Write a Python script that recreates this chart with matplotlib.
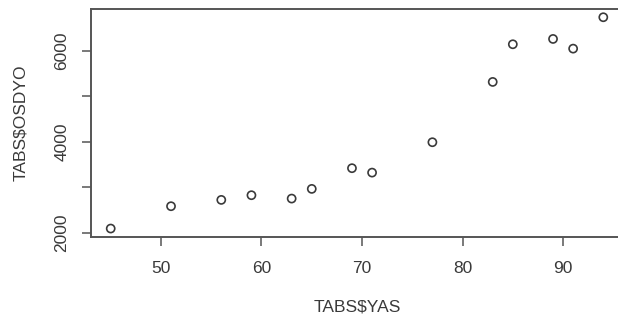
import matplotlib
matplotlib.use("Agg")
import matplotlib.pyplot as plt

# data
yas = [45, 51, 56, 59, 63, 65, 69, 71, 77, 83, 85, 89, 91, 94]
osdyo = [2095, 2586, 2725, 2828, 2754, 2967, 3422, 3325, 3993, 5319, 6147, 6264, 6051, 6741]
yticks = [2000, 3000, 4000, 5000, 6000]
ylabels = ['2000', '', '4000', '', '6000']
xticks = [50, 60, 70, 80, 90]

plt.rcParams['font.family'] = ['Liberation Sans', 'DejaVu Sans']
col = '#3a3a3a'

fig = plt.figure(figsize=(6.18, 3.25), dpi=100)
ax = fig.add_axes([91/618, 88/325, 532/618, 228.2/325])
ax.scatter(yas, osdyo, s=34, facecolors='none', edgecolors=col, linewidths=1.2)

# R-style 4% padding
xr = max(yas) - min(yas)
yr = max(osdyo) - min(osdyo)
ax.set_xlim(min(yas) - 0.04*xr, max(yas) + 0.04*xr)
ax.set_ylim(min(osdyo) - 0.04*yr, max(osdyo) + 0.04*yr)

ax.set_xticks(xticks)
ax.set_yticks(yticks)
ax.set_yticklabels(ylabels, rotation=90, va='center')
ax.tick_params(axis='both', direction='out', length=6.5, width=1.1, color='#555555',
               labelsize=12.5, labelcolor=col, pad=9)
ax.tick_params(axis='x', pad=11)
for s in ax.spines.values():
    s.set_color('#555555')
    s.set_linewidth(1.4)

ax.set_xlabel('TABS$YAS', fontsize=12.5, color=col, labelpad=17)
ax.set_ylabel('TABS$OSDYO', fontsize=12.5, color=col, labelpad=19)

fig.savefig('out.png', dpi=100)
